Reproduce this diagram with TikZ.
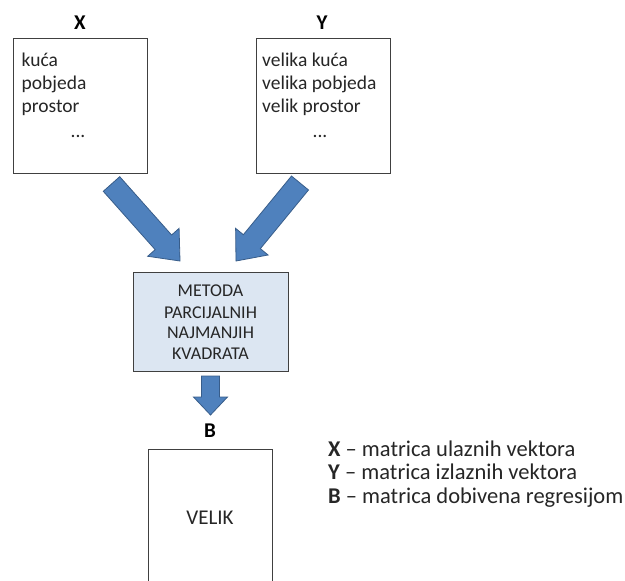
\documentclass[tikz,border=0pt]{standalone}
\usepackage{fontspec}
\setmainfont{Carlito}
\usetikzlibrary{calc}
\definecolor{arrowblue}{HTML}{4F81BD}
\definecolor{arrowedge}{HTML}{385D8A}
\definecolor{boxblue}{HTML}{DCE6F2}
\definecolor{boxedge}{HTML}{404040}
\newcommand{\blockarr}[5]{%
  \coordinate (hb) at ($(#2)!#5!(#1)$);
  \filldraw[arrowshape] ($(#1)!#3!90:(#2)$) -- ($(hb)!#3!90:(#2)$) -- ($(hb)!#4!90:(#2)$) -- (#2)
    -- ($(hb)!#4!-90:(#2)$) -- ($(hb)!#3!-90:(#2)$) -- ($(#1)!#3!-90:(#2)$) -- cycle;}
\tikzset{
  arrowshape/.style={fill=arrowblue, draw=arrowedge, line width=0.8pt, line join=miter},
  wbox/.style={draw=boxedge, line width=1pt, fill=white, anchor=north west, inner sep=0pt},
  bbox/.style={draw=boxedge, line width=1pt, fill=boxblue, anchor=north west, inner sep=0pt},
  body/.style={inner sep=0pt, font=\fontsize{19.5}{23}\selectfont, text=black!85},
  mid/.style={inner sep=0pt, font=\fontsize{18}{21}\selectfont, text=black!85},
  ttl/.style={inner sep=0pt, font=\fontsize{21}{24}\selectfont\bfseries},
  leg/.style={inner sep=0pt, font=\fontsize{22.5}{25}\selectfont, text=black!85, anchor=base west},
}
\begin{document}
\begin{tikzpicture}[x=1pt,y=-1pt]
\useasboundingbox[fill=white] (0,0) rectangle (625,581);
% boxes
\node[wbox, minimum width=134pt, minimum height=135pt] (xbox) at (13,38) {};
\node[wbox, minimum width=134pt, minimum height=135pt] (ybox) at (256,38) {};
\node[bbox, minimum width=155pt, minimum height=99pt] (pls) at (133,272) {};
\draw[draw=boxedge, line width=1pt] (148,583) |- (272,449) -- (272,583);
% titles
\node[ttl, anchor=base] (xt) at (80,29) {X};
\node[ttl, anchor=base] (yt) at (322,29) {Y};
\node[ttl, anchor=base] (bt) at (210,437) {B};
% X box text
\node[body, anchor=base west] (x1) at (21.5,66) {kuća};
\node[body, anchor=base west] (x2) at (21.5,89) {pobjeda};
\node[body, anchor=base west] (x3) at (21.5,112) {prostor};
\node[body, anchor=base] (x4) at (78,137) {...};
% Y box text
\node[body, anchor=base west] (y1) at (262,66) {velika kuća};
\node[body, anchor=base west] (y2) at (262,89) {velika pobjeda};
\node[body, anchor=base west] (y3) at (262,112) {velik prostor};
\node[body, anchor=base] (y4) at (320,137) {...};
% middle text
\node[mid, anchor=base] (m1) at (210.5,296) {METODA};
\node[mid, anchor=base] (m2) at (210.5,318) {PARCIJALNIH};
\node[mid, anchor=base] (m3) at (210.5,338.5) {NAJMANJIH};
\node[mid, anchor=base] (m4) at (210.5,359) {KVADRATA};
% VELIK
\node[body, font=\fontsize{21}{24}\selectfont, anchor=base] (vel) at (210,524) {VELIK};
% legend
\node[leg] (l1) at (328,456) {\textbf{X} – matrica ulaznih vektora};
\node[leg] (l2) at (328,479.5) {\textbf{Y} – matrica izlaznih vektora};
\node[leg] (l3) at (328,503) {\textbf{B} – matrica dobivena regresijom};
% arrows
\coordinate (xa) at (111.5,184);
\coordinate (xp) at (180,261);
\coordinate (ya) at (300,183);
\coordinate (yp) at (236,261);
\coordinate (ba) at (210.5,376);
\coordinate (bp) at (210.5,415);
\blockarr{xa}{xp}{11pt}{21pt}{25pt}
\blockarr{ya}{yp}{11pt}{21pt}{25pt}
\blockarr{ba}{bp}{9pt}{17pt}{18pt}
\end{tikzpicture}
\end{document}
